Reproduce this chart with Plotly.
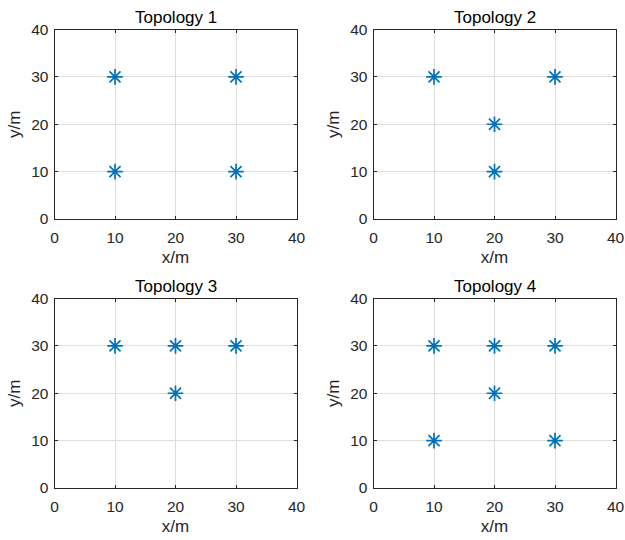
import plotly.graph_objects as go

titles = ["Topology 1", "Topology 2", "Topology 3", "Topology 4"]
x1 = [10, 10, 30, 30]
y1 = [10, 30, 10, 30]
x2 = [10, 20, 20, 30]
y2 = [30, 10, 20, 30]
x3 = [10, 20, 20, 30]
y3 = [30, 30, 20, 30]
x4 = [10, 10, 20, 20, 30, 30]
y4 = [10, 30, 20, 30, 10, 30]
xs = [x1, x2, x3, x4]
ys = [y1, y2, y3, y4]
ticks = [0, 10, 20, 30, 40]

W, H = 625, 540
cols = [(54.5, 296.5), (373.5, 615.5)]
rows = [(29.5, 219), (298.5, 488)]
FS = 15.5
FT = 17

fig = go.Figure()
font = dict(family="Liberation Sans, Arial, Helvetica, sans-serif", size=FS, color="#262626")
layout = dict(width=W, height=H, margin=dict(l=0, r=0, t=0, b=0, autoexpand=False),
              paper_bgcolor="white", plot_bgcolor="white", showlegend=False,
              font=font, annotations=[])
for i in range(4):
    r, c = divmod(i, 2)
    n = "" if i == 0 else str(i + 1)
    fig.add_trace(go.Scatter(x=xs[i], y=ys[i], mode="markers",
                             xaxis="x" + n, yaxis="y" + n,
                             marker=dict(symbol="asterisk-open", size=13, color="#0072BD",
                                         line=dict(width=1.7, color="#0072BD"))))
    ax = dict(range=[0, 40], tickvals=ticks, showgrid=True, gridcolor="#dddddd", gridwidth=1,
              zeroline=False, showline=True, linecolor="#262626", linewidth=1,
              mirror="allticks", ticks="inside", ticklen=3, tickcolor="#262626",
              automargin=False, tickfont=dict(size=FS, color="#262626"))
    xa = dict(ax, domain=[cols[c][0] / W, cols[c][1] / W], anchor="y" + n,
              ticklabelstandoff=4,
              title=dict(text="x/m", standoff=6, font=dict(size=FT)))
    ya = dict(ax, domain=[1 - rows[r][1] / H, 1 - rows[r][0] / H], anchor="x" + n,
              ticklabelstandoff=2,
              title=dict(text="y/m", standoff=6, font=dict(size=FT)))
    layout["xaxis" + n] = xa
    layout["yaxis" + n] = ya
    layout["annotations"].append(dict(text=titles[i], x=(cols[c][0] + cols[c][1]) / 2 / W,
                                      y=1 - (rows[r][0] - 1) / H, xref="paper", yref="paper",
                                      xanchor="center", yanchor="bottom", showarrow=False,
                                      font=dict(size=FT, color="#000000")))
fig.update_layout(**layout)
fig.write_html("out.html")
